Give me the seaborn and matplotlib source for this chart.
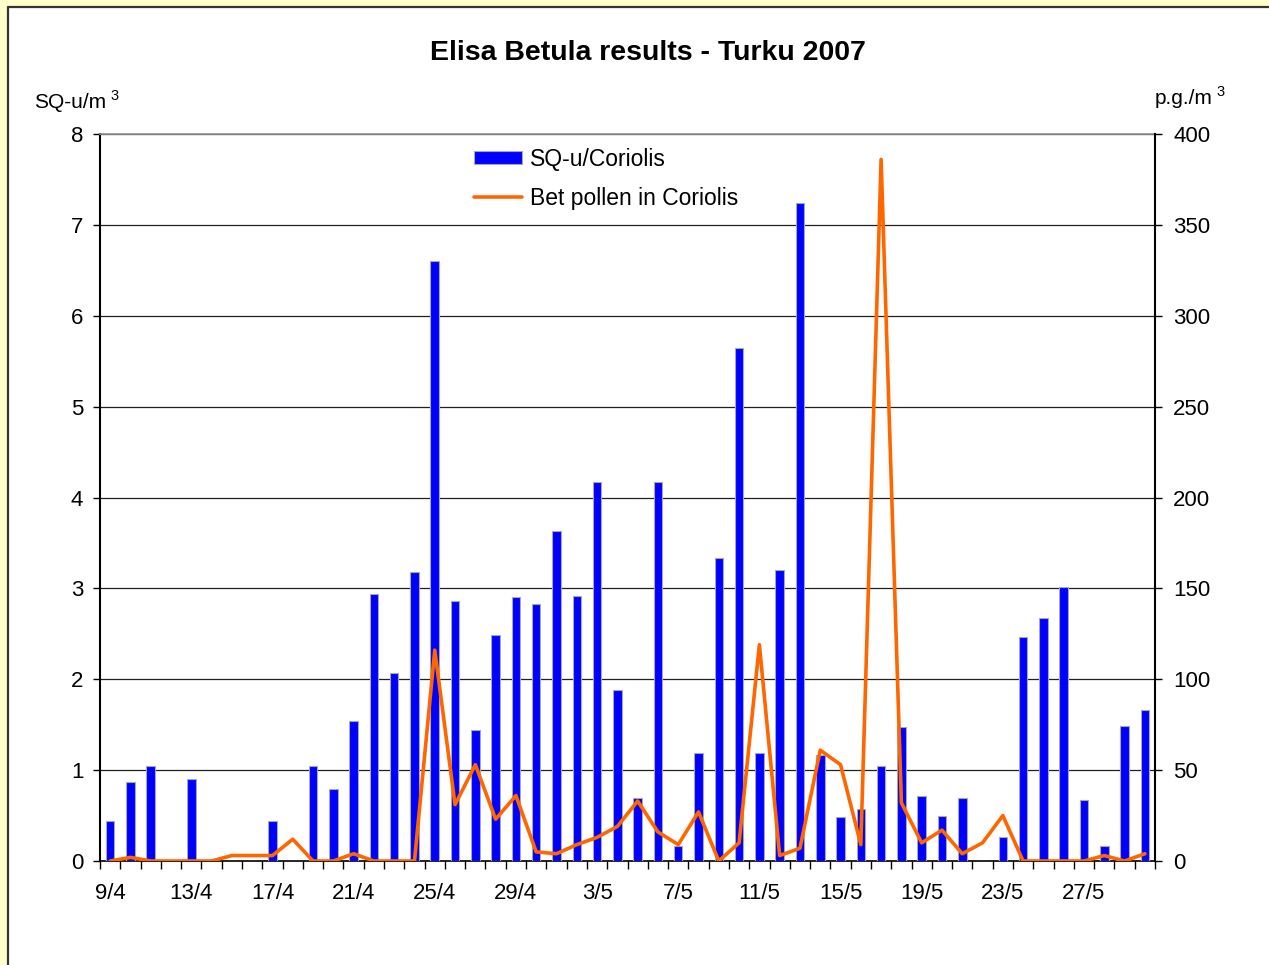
import numpy as np
import pandas as pd
import seaborn as sns
import matplotlib.pyplot as plt
from matplotlib.patches import Rectangle
from matplotlib.lines import Line2D

# Daily data, 9/4/2007 .. 30/5/2007
days = [f"{d}/4" for d in range(9, 31)] + [f"{d}/5" for d in range(1, 31)]

# SQ-u/m3 (left axis)
sq_u = [0.44, 0.87, 1.04, 0.0, 0.90, 0.0, 0.0, 0.0, 0.44, 0.0,
        1.04, 0.79, 1.54, 2.94, 2.07, 3.18, 6.60, 2.86, 1.44, 2.49,
        2.91, 2.83, 3.63, 2.92, 4.17, 1.88, 0.69, 4.17, 0.16, 1.19,
        3.33, 5.65, 1.19, 3.20, 7.24, 1.17, 0.48, 0.57, 1.04, 1.47,
        0.71, 0.50, 0.69, 0.0, 0.26, 2.47, 2.67, 3.02, 0.67, 0.16,
        1.49, 1.66]

# Bet pollen, p.g./m3 (right axis)
pollen = [0, 2, 0, 0, 0, 0, 3, 3, 3, 12,
          0, 0, 4, 0, 0, 0, 116, 31, 53, 23,
          36, 5, 4, 9, 13, 19, 33, 16, 9, 27,
          0, 10, 119, 3, 7, 61, 53, 9, 386, 32,
          10, 17, 4, 10, 25, 0, 0, 0, 0, 3,
          0, 4]

tick_labels = days[::4]

W, H = 1269, 965


def fx(px):
    return px / W


def fy(py):
    return 1 - py / H


sns.set_style("white")
plt.rcParams['font.family'] = ['Liberation Sans', 'DejaVu Sans']
plt.rcParams['text.color'] = 'black'
plt.rcParams['xtick.color'] = 'black'
plt.rcParams['ytick.color'] = 'black'
plt.rcParams['axes.labelcolor'] = 'black'

fig = plt.figure(figsize=(W / 100, H / 100), dpi=100, facecolor='#FFFFCC')

# white chart panel with dark border on left/top
fig.patches.append(Rectangle((fx(8), 0), 1, fy(7), transform=fig.transFigure,
                             facecolor='white', edgecolor='none', zorder=-5))
fig.lines.append(Line2D([fx(8), fx(8), 1], [0, fy(7), fy(7)], transform=fig.transFigure,
                        color='#333333', lw=1.6, zorder=-4))

ax = fig.add_axes([fx(100), fy(861), fx(1155) - fx(100), fy(134) - fy(861)])
ax.set_facecolor('white')

df = pd.DataFrame({'idx': np.arange(len(days)), 'sq': sq_u, 'pollen': pollen})

sns.barplot(data=df, x='idx', y='sq', native_scale=True, width=0.42,
            color='#0000FF', saturation=1, edgecolor='#A8A8A8', linewidth=0.8,
            label='SQ-u/Coriolis', ax=ax, zorder=3)

ax2 = ax.twinx()
sns.lineplot(data=df, x='idx', y='pollen', color='#FF6600', lw=2.6,
             label='Bet pollen in Coriolis', ax=ax2, sort=False)

ax.set_xlim(-0.5, len(days) - 0.5)
ax.set_ylim(0, 8)
ax2.set_ylim(0, 400)
ax.set_yticks(range(0, 9))
ax2.set_yticks(range(0, 401, 50))
ax.set_xticks(np.arange(0, len(days), 4))
ax.set_xticklabels(tick_labels)
ax.set_xticks(np.arange(-0.5, len(days), 1), minor=True)

ax.set_xlabel('')
ax.set_ylabel('')
ax2.set_ylabel('')

ax.grid(axis='y', color='#202020', lw=0.9, zorder=0)
ax.grid(axis='x', visible=False)
ax.set_axisbelow(True)

for a in (ax, ax2):
    for s in a.spines.values():
        s.set_visible(False)
ax.spines['left'].set_visible(True)
ax.spines['left'].set_color('black')
ax.spines['left'].set_linewidth(1.5)
ax.spines['bottom'].set_visible(True)
ax.spines['bottom'].set_color('black')
ax.spines['bottom'].set_linewidth(1.2)
ax.spines['top'].set_visible(True)
ax.spines['top'].set_color('#909090')
ax.spines['top'].set_linewidth(1.2)
ax2.spines['right'].set_visible(True)
ax2.spines['right'].set_color('black')
ax2.spines['right'].set_linewidth(1.5)

ax.tick_params(axis='y', which='major', length=5, width=1, color='black',
               direction='out', labelsize=16, pad=7, left=True)
ax2.tick_params(axis='y', which='major', length=5, width=1, color='black',
                direction='out', labelsize=16, pad=8, right=True)
ax.tick_params(axis='x', which='major', length=0, labelsize=16, pad=16)
ax.tick_params(axis='x', which='minor', length=6, width=1, color='black',
               direction='out', bottom=True)

h1, l1 = ax.get_legend_handles_labels()
h2, l2 = ax2.get_legend_handles_labels()
if ax.get_legend() is not None:
    ax.get_legend().remove()
ax2.legend(h1 + h2, l1 + l2, loc='upper left',
           bbox_to_anchor=((474 - 100) / 1055, (861 - 148) / 727),
           frameon=False, fontsize=16.5, borderpad=0, borderaxespad=0,
           handlelength=2.1, handleheight=0.5, handletextpad=0.35,
           labelspacing=0.68)

fig.text(fx(648), fy(53), 'Elisa Betula results - Turku 2007', ha='center', va='center',
         fontsize=20.5, fontweight='bold')

fig.text(fx(34), fy(103), 'SQ-u/m', ha='left', va='center', fontsize=15)
fig.text(fx(110), fy(96), '3', ha='left', va='center', fontsize=10.5)
fig.text(fx(1155), fy(99), 'p.g./m', ha='left', va='center', fontsize=15)
fig.text(fx(1216), fy(92), '3', ha='left', va='center', fontsize=10.5)

fig.savefig('out.png', dpi=100, facecolor=fig.get_facecolor())
